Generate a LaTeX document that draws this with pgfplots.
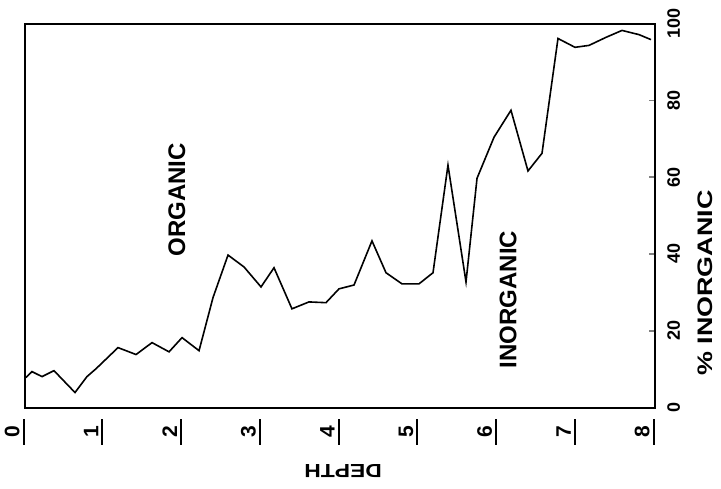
\documentclass[border=0pt]{standalone}
\usepackage{pgfplots}
\pgfplotsset{compat=1.18}
\usepackage{fontspec}
\setmainfont{Liberation Sans}
\newfontfamily\wideA[FakeStretch=1.28]{Liberation Sans}
\newfontfamily\wideB[FakeStretch=1.2]{Liberation Sans}
\newcommand\ul[1]{\vtop{\hbox{\kern3.5pt#1\kern3.5pt}\kern1.5pt\hrule height 1pt}}
\begin{document}
\begin{tikzpicture}
\begin{axis}[name=ax, scale only axis, width=315pt, height=192pt,
  xmin=0, xmax=8, ymin=0, ymax=100,
  axis line style={line width=1pt},
  xtick={0,1,...,8}, x tick style={draw=none},
  xticklabel={\ul{\pgfmathprintnumber{\tick}}},
  xticklabel style={yshift=-5.5pt, rotate=90, anchor=south east, inner sep=0pt,
    font=\fontsize{10.5}{12}\selectfont\bfseries},
  ytick={0,20,...,100}, ytick pos=right, yticklabel pos=right,
  tick align=inside, major tick length=3pt, y tick style={line width=0.8pt},
  yticklabel style={xshift=6pt, rotate=90, anchor=north, inner sep=0pt,
    font=\fontsize{9}{10}\selectfont\bfseries},
  /pgf/number format/assume math mode=true,
  clip=false]
\addplot[black, line width=0.8pt] coordinates {
(0.013,7.8) (0.089,9.35) (0.216,8.05) (0.368,9.6) (0.635,3.9) (0.787,8.05)
(0.902,10.1) (1.181,15.6) (1.410,13.8) (1.613,16.9) (1.829,14.5) (1.994,18.2)
(2.210,14.8) (2.387,28.6) (2.578,39.7) (2.781,36.6) (2.997,31.4) (3.162,36.4)
(3.390,25.7) (3.606,27.5) (3.822,27.3) (3.987,30.9) (4.178,31.9) (4.406,43.4)
(4.584,35.1) (4.787,32.2) (5.003,32.2) (5.181,35.1) (5.371,63.1) (5.600,32.7)
(5.740,59.7) (5.956,70.4) (6.171,77.4) (6.387,61.6) (6.565,66.2) (6.768,96.1)
(6.984,93.8) (7.162,94.3) (7.378,96.4) (7.581,98.2) (7.797,97.1) (7.949,95.8)
};
\node[rotate=90, font=\wideA\fontsize{10.5}{12}\selectfont\bfseries] at (axis description cs:1.079,0.324) {\% INORGANIC};
\node[rotate=180, font=\wideB\fontsize{9.5}{11}\selectfont\bfseries] at (axis description cs:0.505,-0.166) {DEPTH};
\node[rotate=90, font=\fontsize{12}{14}\selectfont\bfseries] at (axis description cs:0.241,0.541) {ORGANIC};
\node[rotate=90, font=\fontsize{12}{14}\selectfont\bfseries] at (axis description cs:0.767,0.281) {INORGANIC};
\end{axis}
\path ([shift={(-12.5pt,-40.5pt)}]ax.south west) rectangle ([shift={(33pt,11.75pt)}]ax.north east);
\end{tikzpicture}
\end{document}
